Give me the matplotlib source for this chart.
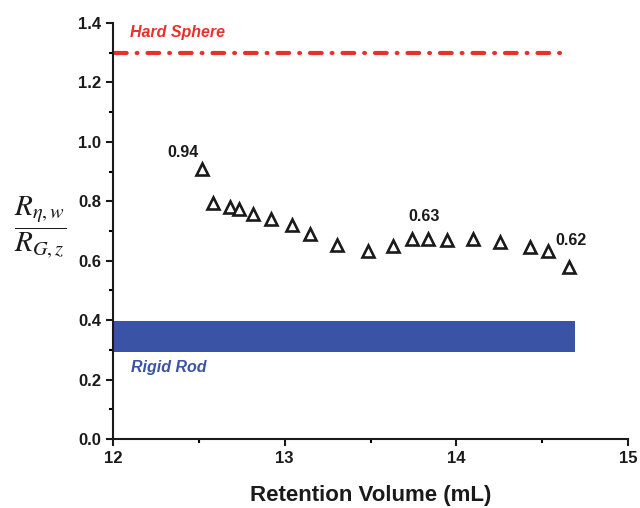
import matplotlib
matplotlib.use("Agg")
import matplotlib.pyplot as plt
from matplotlib.ticker import MultipleLocator

plt.rcParams['font.family'] = ['Liberation Sans', 'DejaVu Sans']
plt.rcParams['mathtext.fontset'] = 'stix'

# data
retention_volume = [12.517, 12.581, 12.681, 12.736, 12.817, 12.918, 13.041, 13.147,
                    13.306, 13.485, 13.632, 13.740, 13.836, 13.947, 14.095, 14.254,
                    14.429, 14.535, 14.658]
ratio = [0.908, 0.794, 0.782, 0.774, 0.758, 0.741, 0.721, 0.690,
         0.653, 0.632, 0.650, 0.672, 0.672, 0.670, 0.672, 0.662,
         0.645, 0.634, 0.578]

hard_sphere_value = 1.30
hard_sphere_x = [12.01, 14.62]
rigid_rod_range = [0.292, 0.398]
rigid_rod_x = [12.0, 14.69]

annotations = [("0.94", 12.41, 0.965), ("0.63", 13.81, 0.748), ("0.62", 14.67, 0.668)]

fig = plt.figure(figsize=(6.4, 5.08), dpi=100)
ax = fig.add_axes([113/640, 1 - 439/508, (628 - 113)/640, (439 - 23)/508])

red = '#e8302c'
blue = '#3a53a4'

ax.plot(hard_sphere_x, [hard_sphere_value]*2, color=red, lw=3.0,
        dashes=(2.8, 2.4, 0.2, 2.4), dash_capstyle='round', solid_capstyle='round')
ax.fill_between(rigid_rod_x, rigid_rod_range[0], rigid_rod_range[1], color=blue, lw=0)

ax.plot(retention_volume, ratio, linestyle='none', marker='^', markersize=8.5,
        markerfacecolor='white', markeredgecolor='#1a1a1a', markeredgewidth=1.9)

for txt, x, y in annotations:
    ax.text(x, y, txt, fontsize=11.5, fontweight='bold', ha='center', va='center', color='#1a1a1a')

ax.text(12.1, 1.368, 'Hard Sphere', color=red, fontsize=11.5, fontweight='bold',
        fontstyle='italic', ha='left', va='center')
ax.text(12.105, 0.239, 'Rigid Rod', color=blue, fontsize=11.5, fontweight='bold',
        fontstyle='italic', ha='left', va='center')

ax.set_xlim(12, 15)
ax.set_ylim(0, 1.4)
ax.xaxis.set_major_locator(MultipleLocator(1))
ax.xaxis.set_minor_locator(MultipleLocator(0.5))
ax.yaxis.set_major_locator(MultipleLocator(0.2))
ax.yaxis.set_minor_locator(MultipleLocator(0.1))
ax.yaxis.set_major_formatter(matplotlib.ticker.FormatStrFormatter('%.1f'))

for s in ['top', 'right']:
    ax.spines[s].set_visible(False)
for s in ['left', 'bottom']:
    ax.spines[s].set_linewidth(1.5)
    ax.spines[s].set_color('#1a1a1a')

ax.tick_params(which='major', length=5, width=1.5, direction='out', labelsize=12, colors='#1a1a1a')
ax.tick_params(which='minor', length=3, width=1.5, direction='out')
for lab in ax.get_xticklabels() + ax.get_yticklabels():
    lab.set_fontweight('bold')

ax.set_xlabel('Retention Volume (mL)', fontsize=16, fontweight='bold', color='#1a1a1a', labelpad=14)

fig.text(40/640, 1 - 227/508, r'$\dfrac{R_{\eta,w}}{R_{G,z}}$', fontsize=21,
         ha='center', va='center', color='#1a1a1a')

fig.savefig('out.png', dpi=100)
